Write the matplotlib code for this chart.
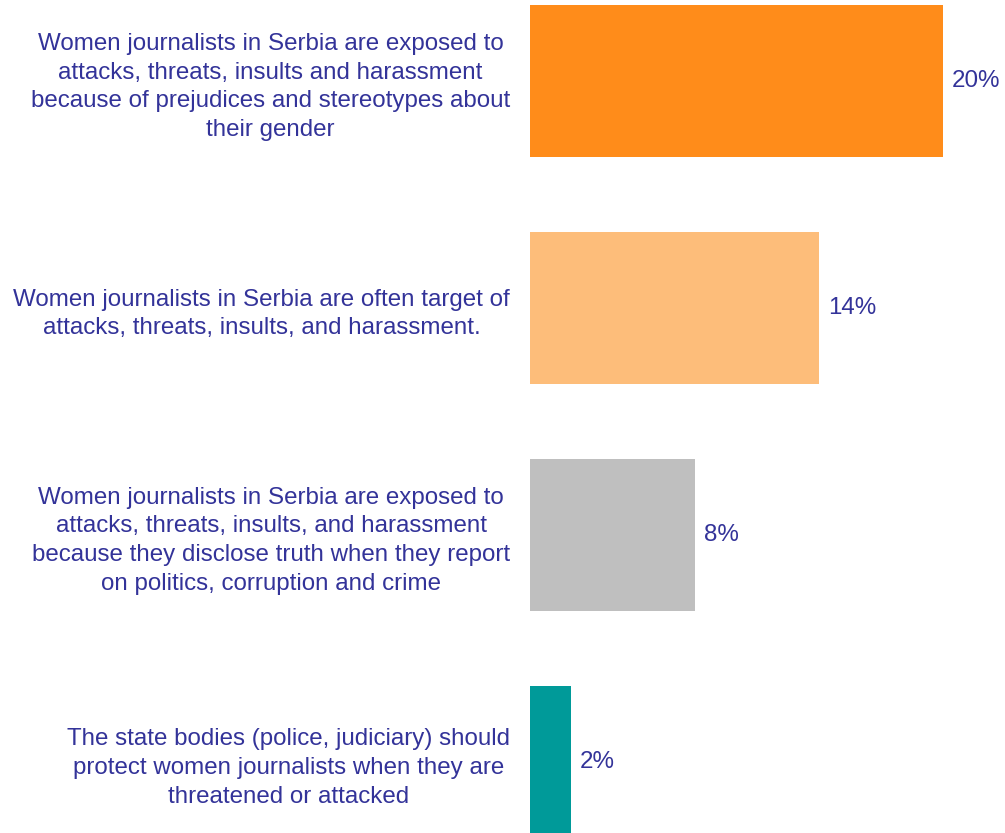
import matplotlib.pyplot as plt

plt.rcParams['font.family'] = ['Liberation Sans', 'DejaVu Sans']

statements = [
    'Women journalists in Serbia are exposed to\nattacks, threats, insults and harassment\n'
    'because of prejudices and stereotypes about\ntheir gender',
    'Women journalists in Serbia are often target of\nattacks, threats, insults, and harassment.',
    'Women journalists in Serbia are exposed to\nattacks, threats, insults, and harassment\n'
    'because they disclose truth when they report\non politics, corruption and crime',
    'The state bodies (police, judiciary) should\nprotect women journalists when they are\n'
    'threatened or attacked',
]
shares = [20, 14, 8, 2]
bar_colors = ['#FF8C1A', '#FDBD7A', '#BFBFBF', '#009A99']
TEXT_COLOR = '#333399'
FONT_SIZE = 17.4

fig = plt.figure(figsize=(10.05, 8.33), dpi=100)
ax = fig.add_axes([0.527, 0.0, 0.473, 1.0])

pos = list(range(len(shares)))
ax.barh(pos, shares, height=0.67, color=bar_colors)
ax.set_xlim(0, 23.0)
ax.set_ylim(3.313, -0.357)

for y, v in zip(pos, shares):
    ax.annotate(f'{v}%', (v, y), xytext=(6.5, 0), textcoords='offset points',
                va='center', ha='left', color=TEXT_COLOR, fontsize=FONT_SIZE)

ax.set_yticks(pos, statements)
ax.tick_params(axis='y', length=0, pad=14, labelsize=FONT_SIZE, labelcolor=TEXT_COLOR)
for lbl in ax.get_yticklabels():
    lbl.set_multialignment('center')
    lbl.set_linespacing(1.4)

ax.set_xticks([])
for spine in ax.spines.values():
    spine.set_visible(False)

fig.savefig('out.png', dpi=100)
